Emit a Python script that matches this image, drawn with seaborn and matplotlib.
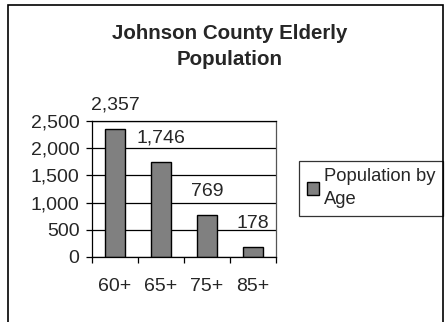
import seaborn as sns
import matplotlib.pyplot as plt
import pandas as pd
from matplotlib.patches import Rectangle

ages = ['60+', '65+', '75+', '85+']
population = [2357, 1746, 769, 178]
y_ticks = [0, 500, 1000, 1500, 2000, 2500]
title = 'Johnson County Elderly\nPopulation'
series_name = 'Population by\nAge'

sns.set_style('white')
plt.rcParams['font.family'] = ['Liberation Sans', 'DejaVu Sans']

df = pd.DataFrame({'age': ages, 'population': population})

fig = plt.figure(figsize=(4.45, 3.22), dpi=100)
fig.patch.set_facecolor('white')
ax = fig.add_axes([0.207, 0.202, 0.413, 0.422])

sns.barplot(df, x='age', y='population', color='#808080', edgecolor='black',
            linewidth=1, width=0.45, saturation=1, ax=ax, label=series_name)

ax.set_ylim(0, 2500)
ax.set_xlim(-0.5, 3.5)
ax.set_yticks(y_ticks)
ax.set_yticklabels([f'{v:,}' for v in y_ticks])
ax.yaxis.grid(True, color='black', linewidth=0.9)
ax.set_axisbelow(True)
for s in ax.spines.values():
    s.set_color('black')
    s.set_linewidth(0.9)
    s.set_visible(True)
ax.spines['right'].set_color('#555555')

ax.tick_params(axis='y', direction='out', length=4, width=0.9, color='black',
               left=True, pad=5, labelsize=14)
ax.set_xticks(range(len(ages)))
ax.set_xticks([-0.5, 0.5, 1.5, 2.5, 3.5], minor=True)
ax.tick_params(axis='x', which='major', length=0, pad=15.5, labelsize=14)
ax.tick_params(axis='x', which='minor', direction='out', length=4, width=0.9,
               color='black', bottom=True)
ax.set_xlabel('')
ax.set_ylabel('')

ax.bar_label(ax.containers[0], labels=[f'{v:,}' for v in population],
             padding=11, fontsize=14, clip_on=False)

fig.text(0.517, 0.856, title, ha='center', va='center', fontsize=14.8,
         fontweight='bold', linespacing=1.45)

leg = ax.legend(loc='center right', bbox_to_anchor=(443 / 445, 0.415),
                bbox_transform=fig.transFigure, frameon=True, fancybox=False,
                edgecolor='black', fontsize=13.2, handlelength=0.65,
                handleheight=0.65, handletextpad=0.3, borderpad=0.4,
                borderaxespad=0, labelspacing=0.2)
leg.get_texts()[0].set_linespacing(1.45)
leg.get_frame().set_linewidth(0.9)

fig.patches.append(Rectangle((8 / 445, -0.1), 435 / 445, 1.1 - 5 / 322,
                             transform=fig.transFigure, fill=False,
                             edgecolor='black', linewidth=1.2))

fig.savefig('out.png', dpi=100)
